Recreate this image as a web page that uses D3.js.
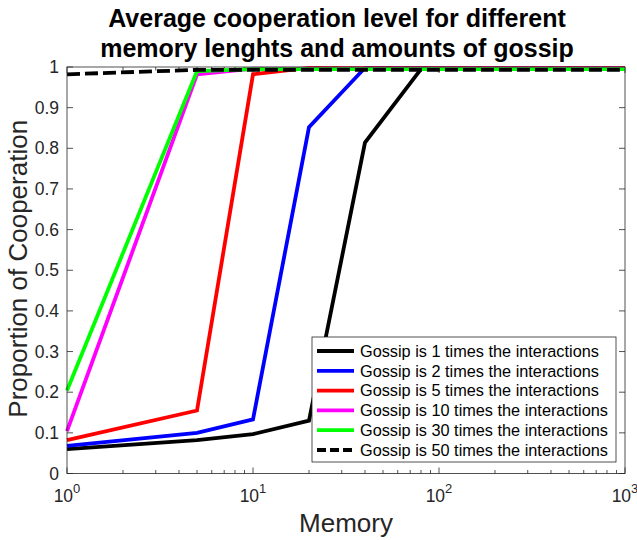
<!DOCTYPE html>
<html>
<head>
<meta charset="utf-8">
<script src="https://cdn.jsdelivr.net/npm/d3@7"></script>
<style>
  body { margin: 0; background: #fff; }
  svg { display: block; font-family: "Liberation Sans", Arial, sans-serif; }
</style>
</head>
<body>
<svg id="chart" width="637" height="540"></svg>
<script>
// Values
const memory = [1, 5, 10, 20, 40, 80, 200, 500, 1000];
const gossip1 = [0.060, 0.082, 0.097, 0.130, 0.814, 0.995, 0.995, 0.995, 0.995];
const gossip2 = [0.068, 0.100, 0.133, 0.852, 0.998, 0.997, 0.997, 0.997, 0.997];
const gossip5 = [0.082, 0.155, 0.982, 0.998, 0.997, 0.997, 0.997, 0.997, 0.997];
const gossip10 = [0.104, 0.982, 0.996, 0.996, 0.996, 0.996, 0.996, 0.996, 0.996];
const gossip30 = [0.204, 0.990, 0.995, 0.995, 0.995, 0.995, 0.995, 0.995, 0.995];
const gossip50 = [0.982, 0.993, 0.993, 0.993, 0.993, 0.993, 0.993, 0.993, 0.993];
const seriesNames = [
  'Gossip is 1 times the interactions',
  'Gossip is 2 times the interactions',
  'Gossip is 5 times the interactions',
  'Gossip is 10 times the interactions',
  'Gossip is 30 times the interactions',
  'Gossip is 50 times the interactions'
];
const yTicks = [0, 0.1, 0.2, 0.3, 0.4, 0.5, 0.6, 0.7, 0.8, 0.9, 1];
const xMajor = [1, 10, 100, 1000];

const series = [
  { name: seriesNames[0], values: gossip1, color: '#000000', dash: null },
  { name: seriesNames[1], values: gossip2, color: '#0000ff', dash: null },
  { name: seriesNames[2], values: gossip5, color: '#ff0000', dash: null },
  { name: seriesNames[3], values: gossip10, color: '#ff00ff', dash: null },
  { name: seriesNames[4], values: gossip30, color: '#00ff00', dash: null },
  { name: seriesNames[5], values: gossip50, color: '#000000', dash: '13,5' }
];

const plotLeft = 67, plotRight = 625, plotTop = 67, plotBottom = 473.5;
const axisColor = '#262626';
const svg = d3.select('#chart');

const x = d3.scaleLog().domain([1, 1000]).range([plotLeft, plotRight]);
const y = d3.scaleLinear().domain([0, 1]).range([plotBottom, plotTop]);

// Minor ticks on the log axis
const xMinor = [];
for (let d = 1; d < 1000; d *= 10) {
  for (let k = 2; k <= 9; k++) xMinor.push(d * k);
}

const ticks = svg.append('g');
xMinor.forEach(v => {
  ticks.append('line').attr('x1', x(v)).attr('x2', x(v)).attr('y1', plotBottom).attr('y2', plotBottom - 3.5);
  ticks.append('line').attr('x1', x(v)).attr('x2', x(v)).attr('y1', plotTop).attr('y2', plotTop + 3.5);
});
xMajor.forEach(v => {
  ticks.append('line').attr('x1', x(v)).attr('x2', x(v)).attr('y1', plotBottom).attr('y2', plotBottom - 6);
  ticks.append('line').attr('x1', x(v)).attr('x2', x(v)).attr('y1', plotTop).attr('y2', plotTop + 6);
});
yTicks.forEach(v => {
  ticks.append('line').attr('x1', plotLeft).attr('x2', plotLeft + 6).attr('y1', y(v)).attr('y2', y(v));
  ticks.append('line').attr('x1', plotRight).attr('x2', plotRight - 6).attr('y1', y(v)).attr('y2', y(v));
});
ticks.selectAll('line').attr('stroke', axisColor).attr('stroke-width', 0.8);

// Lines
const line = d3.line()
  .x((d, i) => x(memory[i]))
  .y(d => y(d));

svg.append('g').selectAll('path')
  .data(series)
  .join('path')
  .attr('d', d => line(d.values))
  .attr('fill', 'none')
  .attr('stroke', d => d.color)
  .attr('stroke-width', 3.8)
  .attr('stroke-linejoin', 'miter')
  .attr('stroke-dasharray', d => d.dash);

// Box
svg.append('rect')
  .attr('x', plotLeft).attr('y', plotTop)
  .attr('width', plotRight - plotLeft).attr('height', plotBottom - plotTop)
  .attr('fill', 'none').attr('stroke', axisColor).attr('stroke-width', 0.8);

// Tick labels
svg.append('g').selectAll('text')
  .data(yTicks)
  .join('text')
  .attr('x', plotLeft - 8)
  .attr('y', d => y(d))
  .attr('dy', '0.35em')
  .attr('text-anchor', 'end')
  .attr('font-size', 17.5)
  .attr('fill', axisColor)
  .text(d => d3.format('~g')(d));

const xl = svg.append('g').selectAll('text')
  .data(xMajor)
  .join('text')
  .attr('x', d => x(d))
  .attr('y', 502)
  .attr('text-anchor', 'middle')
  .attr('font-size', 17.5)
  .attr('fill', axisColor);
xl.append('tspan').text('10');
xl.append('tspan').attr('dy', -9).attr('font-size', 13).text(d => Math.round(Math.log10(d)));

// Axis titles
svg.append('text')
  .attr('x', (plotLeft + plotRight) / 2).attr('y', 532)
  .attr('text-anchor', 'middle')
  .attr('font-size', 26)
  .attr('fill', axisColor)
  .text('Memory');

svg.append('text')
  .attr('transform', `translate(27,${(plotTop + plotBottom) / 2 - 1.5}) rotate(-90)`)
  .attr('text-anchor', 'middle')
  .attr('font-size', 26)
  .attr('fill', axisColor)
  .text('Proportion of Cooperation');

// Title
const titleX = 337;
const title = svg.append('text')
  .attr('text-anchor', 'middle')
  .attr('font-size', 25)
  .attr('font-weight', 'bold')
  .attr('fill', '#000');
title.append('tspan').attr('x', titleX).attr('y', 26.5).text('Average cooperation level for different');
title.append('tspan').attr('x', titleX).attr('y', 56.5).text('memory lenghts and amounts of gossip');

// Legend
const legend = svg.append('g').attr('transform', 'translate(312,337)');
legend.append('rect')
  .attr('width', 304).attr('height', 125)
  .attr('fill', '#fff').attr('stroke', axisColor).attr('stroke-width', 0.8);
const rows = legend.selectAll('g.row')
  .data(series)
  .join('g')
  .attr('class', 'row')
  .attr('transform', (d, i) => `translate(0,${14 + i * 19.8})`);
rows.append('line')
  .attr('x1', 5).attr('x2', 42)
  .attr('stroke', d => d.color)
  .attr('stroke-width', 3.8)
  .attr('stroke-dasharray', d => d.dash ? '9,4' : null);
rows.append('text')
  .attr('x', 48)
  .attr('dy', '0.35em')
  .attr('font-size', 16.3)
  .attr('fill', '#000')
  .text(d => d.name);
</script>
</body>
</html>
